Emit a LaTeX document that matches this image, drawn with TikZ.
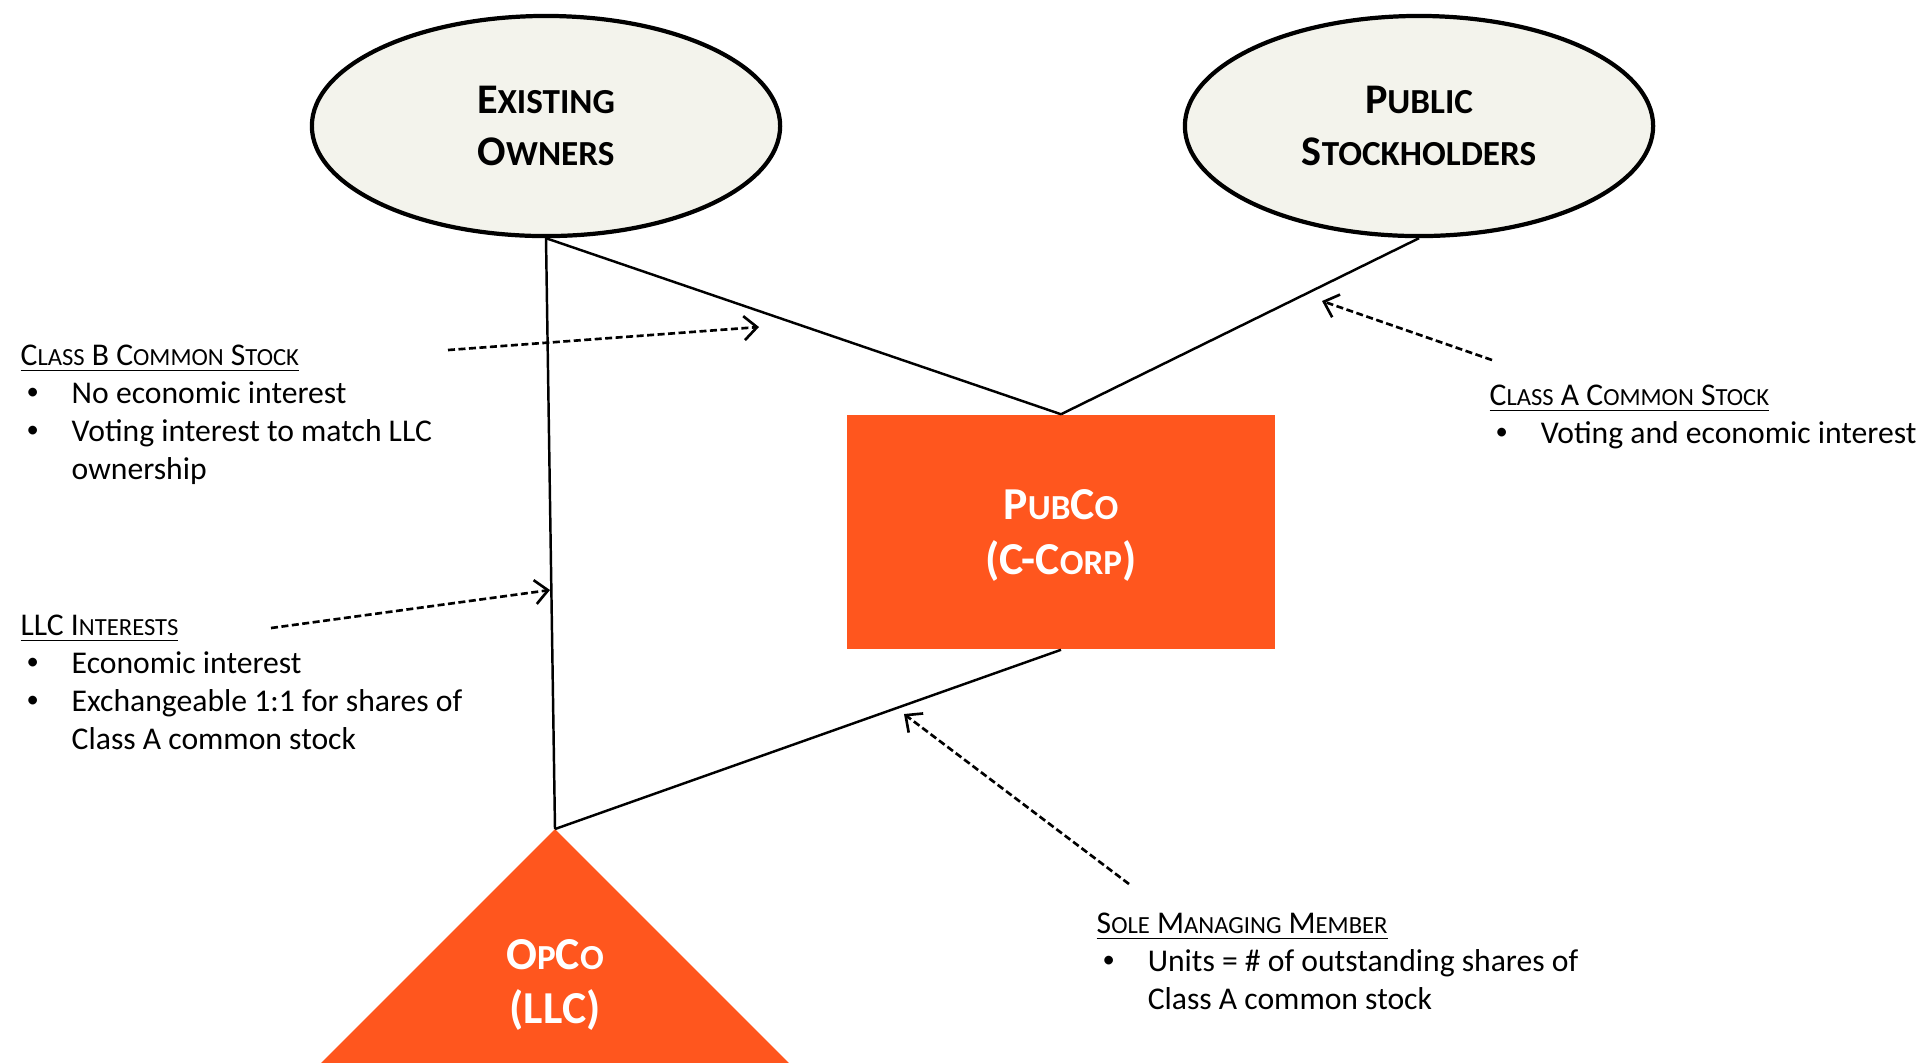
\documentclass[tikz,border=0pt]{standalone}
\usepackage{fontspec}
\setmainfont{Carlito}
\usepackage{relsize}
\usetikzlibrary{positioning, shapes.geometric, arrows.meta, calc}
\definecolor{deeporange}{RGB}{255,86,30}
\definecolor{paleivory}{RGB}{243,243,236}
\newcommand{\Lc}[1]{{\relscale{0.8}#1}}
\newcommand{\Bul}{\hspace*{0.06cm}\makebox[0.45cm][l]{\raisebox{0.25ex}{\relscale{0.75}\textbullet}}}
\newcommand{\Cont}{\hspace*{0.51cm}}
\tikzset{
    owner/.style={ellipse, draw, line width=1.2pt, fill=paleivory,
      minimum width=4.68cm, minimum height=2.2cm, align=center,
      font=\bfseries\fontsize{12}{14.8}\selectfont},
    entity/.style={fill=deeporange, text=white, align=center,
      font=\bfseries\fontsize{13}{15.6}\selectfont},
    note/.style={align=left, inner sep=0pt, font=\fontsize{9}{10.8}\selectfont},
    link/.style={line width=0.7pt},
    pointer/.style={line width=0.75pt, dash pattern=on 0.07cm off 0.035cm,
      -{Straight Barb[length=0.13cm, width=0.24cm]}},
}

\begin{document}
\begin{tikzpicture}[x=0.01cm, y=-0.01cm]
    \useasboundingbox (0,0) rectangle (1928,1062);
    \clip (0,0) rectangle (1928,1062);

    % holders
    \node[owner] (owners) at (546,126) {E\Lc{XISTING}\\O\Lc{WNERS}};
    \node[owner] (public) at (1419,126) {P\Lc{UBLIC}\\S\Lc{TOCKHOLDERS}};

    % entities
    \node[entity, minimum width=4.28cm, minimum height=2.34cm, text depth=0pt] (pubco) at (1061,532)
      {P\Lc{UB}C\Lc{O}\\(C-C\Lc{ORP})};
    \coordinate (opcotop) at (555,829);
    \fill[deeporange] (opcotop) -- ++(-450,450) -- ++(900,0) -- cycle;
    \node[entity, fill=none] (opco) at (555,985) {O\Lc{P}C\Lc{O}\\(LLC)};

    \draw[link] (owners.south) -- (opcotop);
    \draw[link] (owners.south) -- (pubco.north);
    \draw[link] (public.south) -- (pubco.north);
    \draw[link] (pubco.south) -- (opcotop);

    % notes
    \node[note, anchor=north west] (clsb) at (20,344)
      {\underline{C\Lc{LASS} B C\Lc{OMMON} S\Lc{TOCK}}\\
       \Bul No economic interest\\
       \Bul Voting interest to match LLC\\
       \Cont ownership};
    \node[note, anchor=north west] (clsa) at (1489,384)
      {\underline{C\Lc{LASS} A C\Lc{OMMON} S\Lc{TOCK}}\\
       \Bul Voting and economic interest};
    \node[note, anchor=north west] (llc) at (20,614)
      {\underline{LLC I\Lc{NTERESTS}}\\
       \Bul Economic interest\\
       \Bul Exchangeable 1:1 for shares of\\
       \Cont Class A common stock};
    \node[note, anchor=north west] (sole) at (1096,912)
      {\underline{S\Lc{OLE} M\Lc{ANAGING} M\Lc{EMBER}}\\
       \Bul Units = \# of outstanding shares of\\
       \Cont Class A common stock};

    % pointers
    \coordinate (clsbtail) at (448,350);
    \coordinate (clsbhead) at (759,327);
    \coordinate (clsatail) at (1492,360);
    \coordinate (clsahead) at (1322,301);
    \coordinate (llctail) at (271,628);
    \coordinate (llchead) at (550,590);
    \coordinate (soletail) at (1129,884);
    \coordinate (solehead) at (904,714);
    \draw[pointer] (clsbtail) -- (clsbhead);
    \draw[pointer] (clsatail) -- (clsahead);
    \draw[pointer] (llctail) -- (llchead);
    \draw[pointer] (soletail) -- (solehead);
\end{tikzpicture}
\end{document}
